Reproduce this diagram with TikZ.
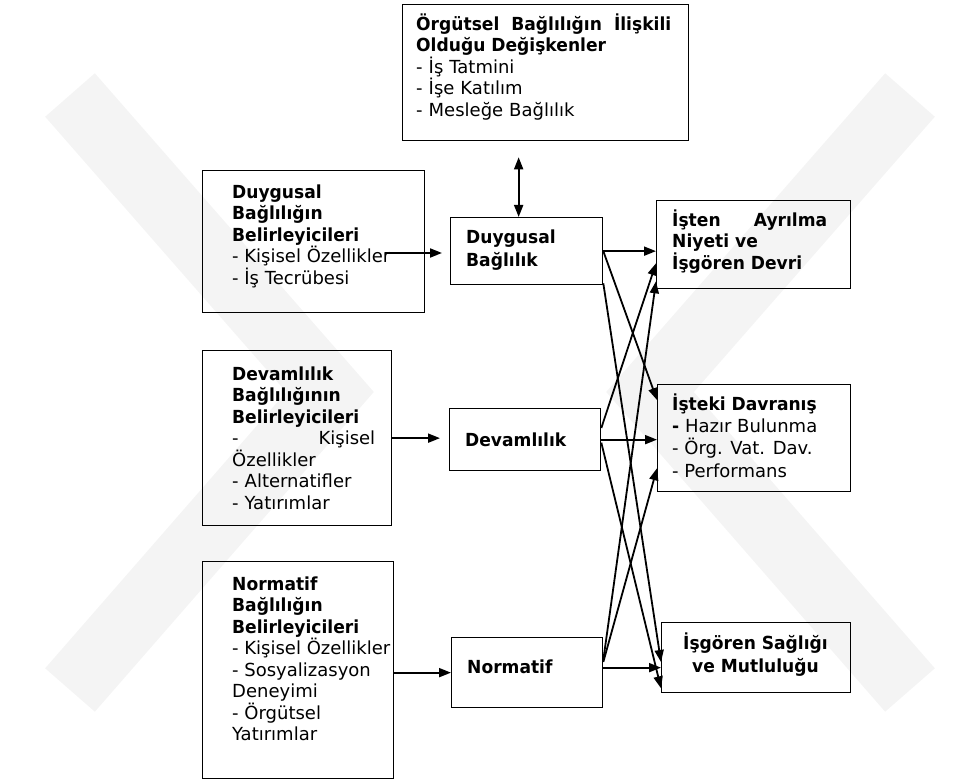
\documentclass[tikz,border=0pt]{standalone}
\usepackage{fontspec}
\setmainfont{DejaVu Sans}[BoldFeatures={FakeStretch=0.95}]
\usepackage{tikz}
\usetikzlibrary{positioning, arrows.meta, calc}
\definecolor{cizgi}{HTML}{000000}
\definecolor{filigran}{HTML}{F4F4F4}
\newcommand{\ust}{\rule{0pt}{17pt}}

\tikzset{
  kutu/.style={draw=cizgi, line width=1.3pt, anchor=north west, inner sep=0pt},
  yazi/.style={anchor=north west, inner sep=0pt, align=left,
    font=\fontsize{18}{21.5}\selectfont},
  ok/.style={-{Triangle[length=12pt,width=9pt]}, line width=1.8pt, color=cizgi},
  cift/.style={{Triangle[length=12pt,width=9pt]}-{Triangle[length=12pt,width=9pt]}, line width=1.8pt},
}

\begin{document}
\begin{tikzpicture}[x=1pt, y=1pt]
  \useasboundingbox (0,0) rectangle (980,-783);
  % filigran
  \draw[filigran, line width=66pt] (70,-95) -- (330,-392) -- (70,-690);
  \draw[filigran, line width=66pt] (910,-95) -- (650,-392) -- (910,-690);
  % cerceveler
  \node[kutu, minimum width=286pt, minimum height=136pt] (org) at (402,-4) {};
  \node[kutu, minimum width=222pt, minimum height=142pt] (dbel) at (202,-170) {};
  \node[kutu, minimum width=189pt, minimum height=175pt] (vbel) at (202,-350) {};
  \node[kutu, minimum width=191pt, minimum height=217pt] (nbel) at (202,-561) {};
  \node[kutu, minimum width=152pt, minimum height=67pt] (dug) at (450,-217) {};
  \node[kutu, minimum width=151pt, minimum height=62pt] (dev) at (449,-408) {};
  \node[kutu, minimum width=151pt, minimum height=70pt] (nor) at (451,-637) {};
  \node[kutu, minimum width=194pt, minimum height=88pt] (ayr) at (656,-200) {};
  \node[kutu, minimum width=193pt, minimum height=107pt] (dav) at (657,-384) {};
  \node[kutu, minimum width=189pt, minimum height=70pt] (sag) at (661,-622) {};
  % yazilar
  \node[yazi, text width=255pt] (orgt) at (416,-13) {\ust\textbf{Örgütsel\hfill Bağlılığın\hfill İlişkili}\\
    \textbf{Olduğu Değişkenler}\\- İş Tatmini\\- İşe Katılım\\- Mesleğe Bağlılık};
  \node[yazi] (dbelt) at (232,-181) {\ust\textbf{Duygusal}\\\textbf{Bağlılığın}\\\textbf{Belirleyicileri}\\
    - Kişisel Özellikler\\- İş Tecrübesi};
  \node[yazi, text width=143pt] (vbelt) at (232,-363) {\ust\textbf{Devamlılık}\\\textbf{Bağlılığının}\\\textbf{Belirleyicileri}\\
    -\hfill Kişisel\\Özellikler\\- Alternatifler\\- Yatırımlar};
  \node[yazi] (nbelt) at (232,-573) {\ust\textbf{Normatif}\\\textbf{Bağlılığın}\\\textbf{Belirleyicileri}\\
    - Kişisel Özellikler\\- Sosyalizasyon\\Deneyimi\\- Örgütsel\\Yatırımlar};
  \node[yazi, font=\fontsize{18}{23}\selectfont] (dugt) at (466,-226) {\ust\textbf{Duygusal}\\\textbf{Bağlılık}};
  \node[yazi] (devt) at (465,-429) {\ust\textbf{Devamlılık}};
  \node[yazi] (nort) at (467,-656) {\ust\textbf{Normatif}};
  \node[yazi, text width=155pt] (ayrt) at (672,-209) {\ust\textbf{İşten\hfill Ayrılma}\\
    \textbf{Niyeti ve}\\\textbf{İşgören Devri}};
  \node[yazi, font=\fontsize{18}{22.3}\selectfont] (davt) at (672,-393) {\ust\textbf{İşteki Davranış}\\
    \textbf{-} Hazır Bulunma\\- Örg. Vat. Dav.\\- Performans};
  \node[yazi, anchor=north, align=center, font=\fontsize{18}{23}\selectfont] (sagt) at (755.5,-632)
    {\ust\textbf{İşgören Sağlığı}\\\textbf{ve Mutluluğu}};
  % oklar
  \coordinate (k1) at (385,-253);
  \draw[ok] (k1) -- ([xshift=-8pt]k1 -| dug.west);
  \draw[ok] (vbel.east) -- ([xshift=-9pt]vbel.east -| dev.west);
  \draw[ok] (nbel.east |- nor.west) -- (nor.west);
  \draw[cift] ([xshift=-8pt, yshift=-16pt]org.south -| dug.north) -- ([xshift=-8pt]dug.north);
  % duygusal
  \draw[ok] (dug.east) -- (dug.east -| ayr.west);
  \draw[ok] (dug.east) -- ([yshift=-16pt]dav.north west);
  \draw[ok] ([yshift=2pt]dug.south east) -- ([yshift=-40pt]sag.north west);
  % devamlilik
  \draw[ok] ([yshift=-20pt]dev.north east) -- ([yshift=26pt]ayr.south west);
  \draw[ok] (dev.east) -- (dev.east -| dav.west);
  \draw[ok] ([yshift=-3pt]dev.east) -- ([yshift=5pt]sag.south west);
  % normatif
  \draw[ok] ([yshift=-23pt]nor.north east) -- ([yshift=8pt]ayr.south west);
  \draw[ok] ([yshift=-25pt]nor.north east) -- ([yshift=24pt]dav.south west);
  \draw[ok] ([yshift=5pt]nor.east) -- ([yshift=5pt]nor.east -| sag.west);
\end{tikzpicture}
\end{document}
